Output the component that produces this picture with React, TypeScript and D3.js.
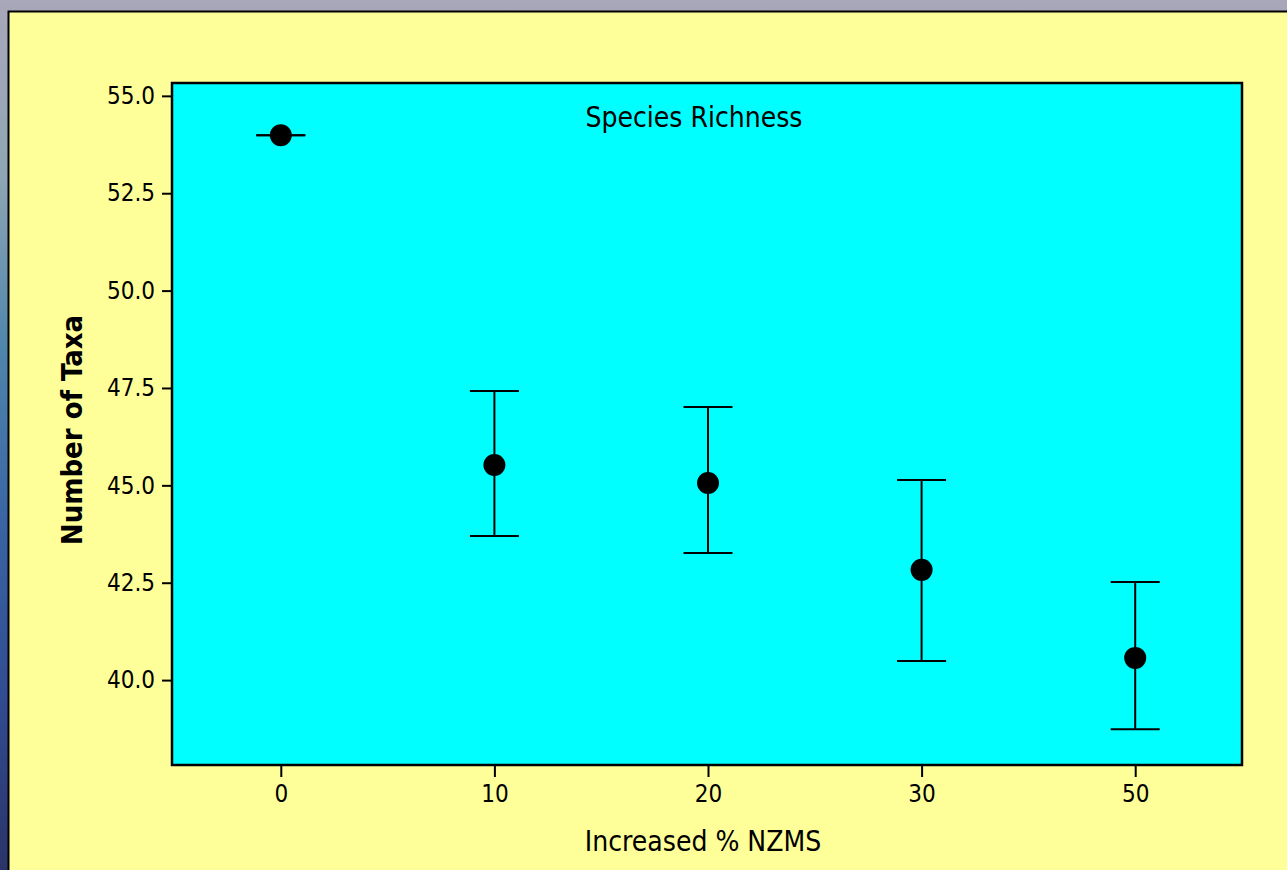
import React, { useEffect, useRef } from 'react';
import * as d3 from 'd3';

// NZMS treatment levels (categorical x axis)
const categories = ['0', '10', '20', '30', '50'];
// mean number of taxa per level
const means = [53.99, 45.52, 45.06, 42.83, 40.57];
// error bar ends
const upper = [53.99, 47.42, 47.01, 45.14, 42.52];
const lower = [53.99, 43.7, 43.26, 40.49, 38.74];
const yTicks = [40, 42.5, 45, 47.5, 50, 52.5, 55];

const chartTitle = 'Species Richness';
const xTitle = 'Increased % NZMS';
const yTitle = 'Number of Taxa';

const W = 1287;
const H = 870;
const FONT = "'DejaVu Sans Condensed', 'DejaVu Sans', sans-serif";

const App: React.FC = () => {
  const svgRef = useRef<SVGSVGElement>(null);

  useEffect(() => {
    if (!svgRef.current) return;
    const root = d3.select(svgRef.current);
    root.selectAll('*').remove();

    // plot area
    const plot = { left: 172, top: 83, right: 1242, bottom: 765 };

    // background gradient behind the yellow panel
    const defs = root.append('defs');
    const grad = defs
      .append('linearGradient')
      .attr('id', 'bg')
      .attr('x1', 0)
      .attr('y1', 0)
      .attr('x2', 0)
      .attr('y2', 1);
    [
      ['0%', '#a9a7ba'],
      ['20%', '#8fa6b4'],
      ['40%', '#4f86ac'],
      ['60%', '#3a64a4'],
      ['80%', '#314c92'],
      ['100%', '#2b3468'],
    ].forEach(([o, c]) => grad.append('stop').attr('offset', o).attr('stop-color', c));

    root.append('rect').attr('width', W).attr('height', H).attr('fill', 'url(#bg)');

    // yellow panel
    root
      .append('rect')
      .attr('x', 8.5)
      .attr('y', 11.5)
      .attr('width', W + 10)
      .attr('height', H + 10)
      .attr('fill', '#FFFF99')
      .attr('stroke', '#000')
      .attr('stroke-width', 2);

    // cyan plot area
    root
      .append('rect')
      .attr('x', plot.left)
      .attr('y', plot.top)
      .attr('width', plot.right - plot.left)
      .attr('height', plot.bottom - plot.top)
      .attr('fill', '#00FFFF')
      .attr('stroke', '#000')
      .attr('stroke-width', 2.5);

    const x = d3.scalePoint<string>().domain(categories).range([plot.left + 2, plot.right]).padding(0.5);
    const y = d3.scaleLinear().domain([37.82, 55.33]).range([plot.bottom, plot.top]);

    // Y axis
    const yAxis = root
      .append('g')
      .attr('transform', `translate(${plot.left - 1},0)`)
      .call(
        d3
          .axisLeft(y)
          .tickValues(yTicks)
          .tickSize(9)
          .tickPadding(7)
          .tickFormat(d => d3.format('.1f')(d as number))
      );
    yAxis.select('.domain').remove();
    yAxis.selectAll('line').attr('stroke', '#000').attr('stroke-width', 2);
    yAxis
      .selectAll('text')
      .attr('fill', '#000')
      .style('font-family', FONT)
      .style('font-size', '24px');

    // X axis
    const xAxis = root
      .append('g')
      .attr('transform', `translate(0,${plot.bottom + 1})`)
      .call(d3.axisBottom(x).tickSize(11).tickPadding(8));
    xAxis.select('.domain').remove();
    xAxis.selectAll('line').attr('stroke', '#000').attr('stroke-width', 2);
    xAxis
      .selectAll('text')
      .attr('fill', '#000')
      .style('font-family', FONT)
      .style('font-size', '24px');

    // error bars
    const capHalf = 24.5;
    const bars = root.append('g');
    categories.forEach((c, i) => {
      const cx = x(c) || 0;
      bars
        .append('line')
        .attr('x1', cx)
        .attr('x2', cx)
        .attr('y1', y(upper[i]))
        .attr('y2', y(lower[i]))
        .attr('stroke', '#000')
        .attr('stroke-width', 2);
      [upper[i], lower[i]].forEach(v => {
        bars
          .append('line')
          .attr('x1', cx - capHalf)
          .attr('x2', cx + capHalf)
          .attr('y1', y(v))
          .attr('y2', y(v))
          .attr('stroke', '#000')
          .attr('stroke-width', 2);
      });
    });

    // mean points
    root
      .append('g')
      .selectAll('circle')
      .data(means)
      .join('circle')
      .attr('cx', (_, i) => x(categories[i]) || 0)
      .attr('cy', d => y(d))
      .attr('r', 11)
      .attr('fill', '#000');

    // titles
    root
      .append('text')
      .attr('x', 694)
      .attr('y', 127)
      .attr('text-anchor', 'middle')
      .style('font-family', FONT)
      .style('font-size', '28px')
      .text(chartTitle);

    root
      .append('text')
      .attr('x', 703)
      .attr('y', 851)
      .attr('text-anchor', 'middle')
      .style('font-family', FONT)
      .style('font-size', '28px')
      .text(xTitle);

    root
      .append('text')
      .attr('transform', `translate(82,430) rotate(-90)`)
      .attr('text-anchor', 'middle')
      .style('font-family', FONT)
      .style('font-size', '29px')
      .style('font-weight', 'bold')
      .text(yTitle);
  }, []);

  return (
    <div style={{ position: 'absolute', left: 0, top: 0, width: W, height: H, overflow: 'hidden' }}>
      <svg ref={svgRef} width={W} height={H} style={{ display: 'block' }}></svg>
    </div>
  );
};

export default App;
